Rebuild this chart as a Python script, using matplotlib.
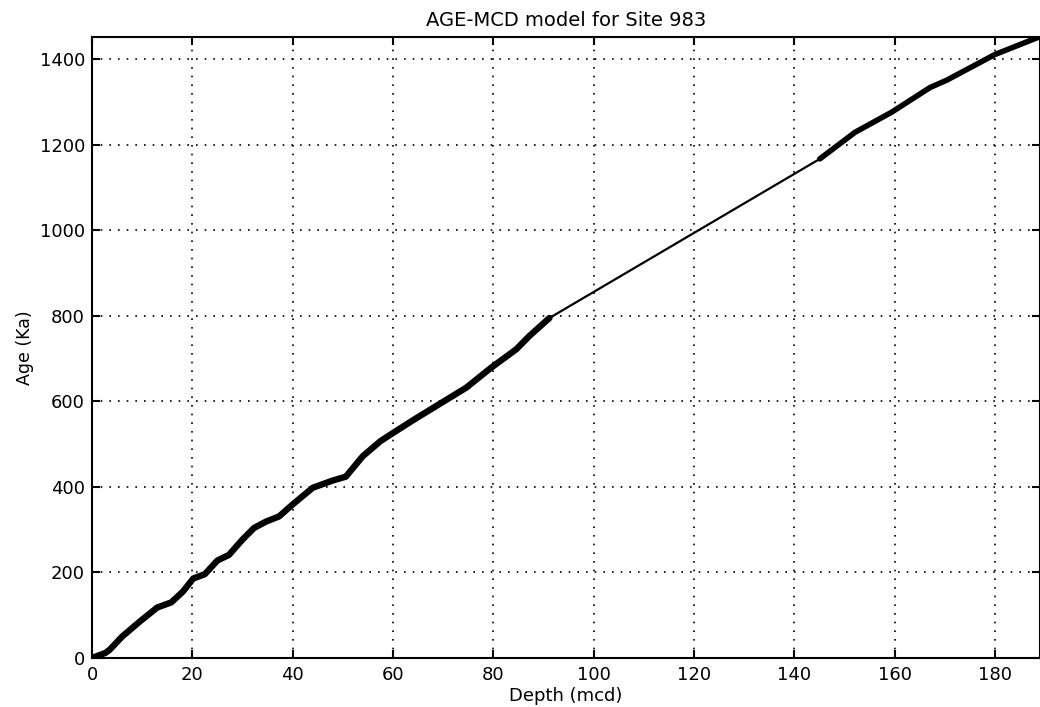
import numpy as np
import matplotlib
matplotlib.use("Agg")
import matplotlib.pyplot as plt

plt.rcParams['font.family'] = ['DejaVu Sans']

depth = [0, 2.7, 3.5, 6, 9.5, 13, 15.8, 18.1, 20.2, 22.5, 25, 27.3, 30, 32.3,
         34.7, 37.3, 40, 44, 48, 50.6, 54, 57.5, 59.6, 64, 68.6, 74.6, 79.6,
         84.6, 87.2, 91.2, 145.1, 152.1, 159.4, 167.1, 170.4, 180, 188.8]
age = [0, 12, 19, 50, 85, 118, 130, 155, 186, 196, 228, 241, 277, 304,
       319, 331, 359, 398, 415, 424, 472, 507, 523, 556, 589, 632, 679,
       722, 753, 795, 1167, 1229, 1276, 1334, 1351, 1411, 1452]

title = "AGE-MCD model for Site 983"
xlabel = "Depth (mcd)"
ylabel = "Age (Ka)"
xticks = [0, 20, 40, 60, 80, 100, 120, 140, 160, 180]
yticks = [0, 200, 400, 600, 800, 1000, 1200, 1400]

depth = np.array(depth)
age = np.array(age)

fig = plt.figure(figsize=(10.4, 7.07), dpi=100)
ax = fig.add_axes([92 / 1040, 1 - 658 / 707, 1 - 92 / 1040, (658 - 37) / 707])

# thin interpolated line across the whole model
ax.plot(depth, age, color='black', lw=1.6, solid_capstyle='round', zorder=3)
# thick where tie points are dense
m1 = depth <= 91.2
m2 = depth >= 145.1
ax.plot(depth[m1], age[m1], color='black', lw=4.6, solid_capstyle='round',
        solid_joinstyle='round', zorder=4)
ax.plot(depth[m2], age[m2], color='black', lw=4.0, solid_capstyle='round',
        solid_joinstyle='round', zorder=4)

ax.set_xlim(0, 189)
ax.set_ylim(0, 1452)
ax.set_xticks(xticks)
ax.set_yticks(yticks)
ax.grid(True, color='black', linestyle=(0, (1, 4.2)), linewidth=1.2)
ax.tick_params(direction='in', length=6, width=1.5, top=True, right=True,
               labelsize=13)
ax.tick_params(axis='y', pad=5)
ax.tick_params(axis='x', pad=6)
for s in ax.spines.values():
    s.set_linewidth(1.5)

ax.set_title(title, fontsize=14, pad=8)
ax.set_xlabel(xlabel, fontsize=13, labelpad=2)
ax.set_ylabel(ylabel, fontsize=12.5, labelpad=4)

fig.savefig("out.png", dpi=100)
